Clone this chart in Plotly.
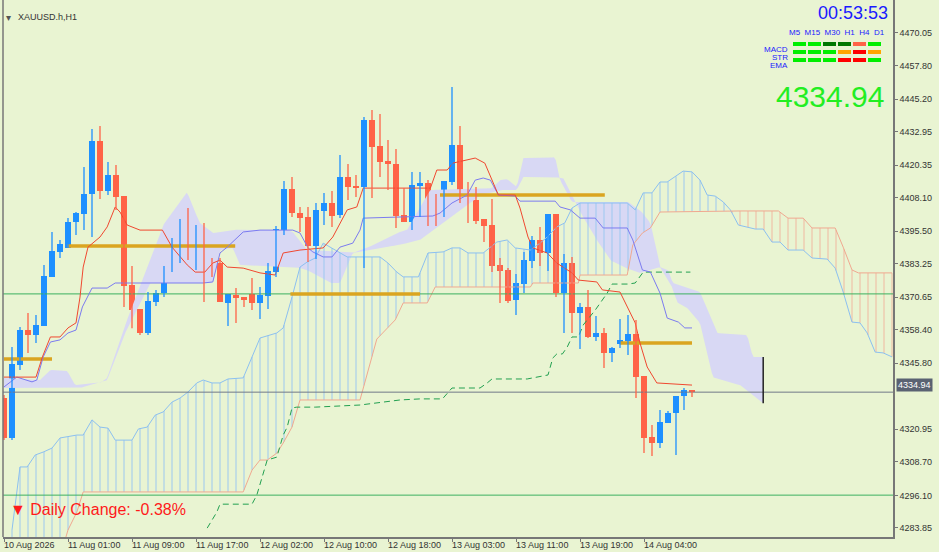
import numpy as np
import plotly.graph_objects as go

# ---- candles (H1 bars, index 0..86) ----
opens = [4332.73, 4317.68, 4345.15, 4358.31, 4356.43, 4359.82, 4378.25, 4387.66, 4389.16, 4398.94,
         4401.95, 4409.48, 4429.42, 4410.61, 4416.62, 4408.72, 4375.24, 4366.21, 4357.18, 4368.85,
         4372.24, 4382.01, 4387.28, 4392.55, 4389.16, 4394.05, 4383.90, 4383.52, 4368.47, 4371.48,
         4370.73, 4371.86, 4368.47, 4371.10, 4380.13, 4395.93, 4411.36, 4402.33, 4400.82, 4390.04,
         4403.08, 4406.09, 4401.58, 4415.87, 4412.49, 4412.11, 4437.32, 4427.53, 4421.89, 4420.76,
         4401.58, 4398.94, 4412.49, 4413.61, 4409.10, 4401.58, 4413.99, 4427.91, 4409.10, 4407.22,
         4400.07, 4397.81, 4382.77, 4380.89, 4369.60, 4375.62, 4384.27, 4392.17, 4387.28, 4401.95,
         4372.24, 4383.52, 4364.71, 4366.97, 4355.68, 4357.18, 4349.66, 4353.04, 4354.17, 4356.81,
         4341.01, 4318.06, 4315.80, 4323.33, 4326.97, 4333.48, 4335.74]
highs = [4333.86, 4351.92, 4359.45, 4364.71, 4363.96, 4382.77, 4395.18, 4392.17, 4400.45, 4402.71,
         4419.63, 4433.93, 4435.06, 4421.52, 4420.39, 4408.72, 4382.39, 4366.21, 4372.61, 4373.36,
         4382.39, 4392.92, 4400.07, 4404.21, 4397.81, 4398.57, 4385.40, 4385.40, 4371.86, 4374.11,
         4370.73, 4377.88, 4374.49, 4383.52, 4397.44, 4414.37, 4415.87, 4404.59, 4404.59, 4406.09,
         4409.85, 4410.61, 4424.15, 4420.76, 4416.62, 4438.44, 4441.08, 4439.57, 4429.79, 4426.41,
         4411.73, 4417.75, 4417.75, 4414.74, 4409.48, 4414.37, 4449.73, 4435.06, 4413.99, 4412.11,
         4400.07, 4407.60, 4385.40, 4381.64, 4379.38, 4387.66, 4393.67, 4397.06, 4401.95, 4401.95,
         4386.91, 4385.78, 4368.47, 4373.36, 4363.58, 4359.07, 4351.92, 4362.45, 4363.96, 4362.08,
         4341.01, 4322.57, 4328.22, 4327.84, 4333.48, 4336.49, 4335.74]
lows = [4316.93, 4316.93, 4343.27, 4349.66, 4353.42, 4359.82, 4378.25, 4385.40, 4389.16, 4394.05,
        4395.93, 4393.30, 4407.60, 4409.10, 4403.46, 4366.97, 4358.99, 4356.43, 4356.43, 4367.34,
        4370.73, 4380.13, 4383.52, 4384.65, 4380.89, 4368.85, 4378.25, 4368.85, 4359.82, 4360.95,
        4366.97, 4365.84, 4362.45, 4366.21, 4378.25, 4394.05, 4400.82, 4395.18, 4383.90, 4385.02,
        4397.81, 4397.06, 4400.45, 4407.22, 4408.35, 4381.64, 4407.97, 4415.87, 4410.98, 4396.69,
        4398.94, 4395.93, 4400.82, 4397.44, 4397.44, 4400.82, 4412.86, 4406.09, 4398.57, 4398.19,
        4391.42, 4380.13, 4368.47, 4368.47, 4363.96, 4372.24, 4381.64, 4382.39, 4380.51, 4370.73,
        4357.18, 4357.18, 4351.17, 4355.30, 4354.17, 4344.02, 4346.28, 4351.54, 4348.91, 4332.73,
        4312.04, 4310.91, 4313.92, 4323.33, 4311.29, 4328.22, 4333.11]
closes = [4317.68, 4345.53, 4358.31, 4356.43, 4360.19, 4378.63, 4388.03, 4390.67, 4398.94, 4402.33,
          4409.48, 4429.42, 4410.61, 4416.62, 4408.35, 4374.87, 4365.84, 4357.18, 4369.22, 4372.24,
          4382.39, 4387.66, 4392.55, 4389.16, 4394.05, 4383.52, 4383.52, 4368.85, 4371.86, 4370.35,
          4369.60, 4368.47, 4371.48, 4380.51, 4396.31, 4411.36, 4402.33, 4400.45, 4390.04, 4403.46,
          4406.09, 4401.20, 4415.87, 4412.11, 4412.11, 4437.32, 4427.16, 4421.52, 4420.76, 4401.20,
          4398.94, 4412.86, 4413.61, 4407.60, 4401.58, 4414.37, 4427.91, 4408.35, 4407.22, 4399.46,
          4397.44, 4382.39, 4380.51, 4369.22, 4375.99, 4384.65, 4392.17, 4387.28, 4401.95, 4372.24,
          4383.52, 4364.71, 4366.97, 4355.68, 4357.18, 4349.66, 4351.54, 4354.55, 4356.81, 4340.63,
          4317.68, 4315.80, 4323.70, 4326.97, 4333.48, 4335.74, 4334.94]

# ---- ichimoku lines (bar index, price) ----
tenkan_x = [0, 4, 4.8, 5.8, 7, 8, 9, 9.5, 9.9, 10.5, 12, 12.9, 13.9, 14.5, 15.4, 17, 19.8, 21, 22.9, 23.9,
            25.1, 26.1, 27, 27.9, 29.9, 32, 33.9, 34.9, 37, 39.9, 41.1, 42.9, 44.1, 44.9, 48.6, 53.3, 54.1,
            55.4, 56.1, 58.9, 60.1, 60.8, 61.8, 63.9, 64.5, 65.5, 66.1, 67.9, 69.1, 71, 71.8, 74.1, 74.8,
            77, 78.3, 78.9, 79.5, 80.4, 81.6, 86]
tenkan_y = [4340.6, 4340.6, 4348.2, 4355.7, 4355.7, 4359.1, 4361.0, 4370.7, 4382.0, 4389.5, 4393.3, 4397.1,
            4404.6, 4402.7, 4397.8, 4395.9, 4395.9, 4389.5, 4382.8, 4380.1, 4380.1, 4383.5, 4384.6, 4382.0,
            4381.6, 4379.8, 4379.0, 4387.3, 4388.4, 4389.2, 4393.3, 4403.5, 4404.6, 4411.7, 4411.7, 4411.7,
            4418.5, 4418.5, 4421.1, 4423.0, 4421.1, 4415.9, 4409.1, 4409.1, 4404.2, 4393.3, 4389.2, 4387.3,
            4383.5, 4379.8, 4377.1, 4376.4, 4373.4, 4372.6, 4364.7, 4361.0, 4353.4, 4344.4, 4338.4, 4337.6]
kijun_x = [0, 1.6, 3.5, 4.1, 4.9, 5.8, 7, 8, 9, 9.8, 11, 12.9, 13.9, 24.9, 26.1, 27, 27.9, 29.9, 32, 36.1,
           37, 38, 38.6, 39.9, 41, 42, 43.6, 44.5, 44.9, 48.6, 53.6, 54.5, 56, 57.9, 58.9, 59.9, 60.8, 61.8,
           63.9, 64.5, 68.9, 69.5, 70.8, 72, 73.9, 74.9, 77.9, 78.6, 79.8, 80.8, 82, 82.9, 84.3, 85.1, 86]
kijun_y = [4336.9, 4340.6, 4338.8, 4339.5, 4348.2, 4353.8, 4354.6, 4357.2, 4358.3, 4367.0, 4374.1, 4374.1,
           4376.0, 4376.0, 4376.4, 4387.3, 4389.5, 4395.2, 4395.9, 4395.9, 4394.8, 4389.2, 4387.7, 4385.8,
           4385.8, 4389.5, 4391.0, 4395.9, 4400.4, 4400.8, 4401.2, 4402.3, 4406.1, 4409.1, 4414.7, 4415.5,
           4414.7, 4409.1, 4408.7, 4406.8, 4406.8, 4404.6, 4403.5, 4400.4, 4400.4, 4396.7, 4396.7, 4392.2,
           4380.9, 4380.1, 4372.2, 4362.8, 4361.3, 4359.1, 4359.1]
span_b_x = [1, 1.6, 2, 2.9, 3.9, 4.9, 6, 7, 8, 9.1, 9.9, 11, 12, 13, 13.9, 16, 16.8, 17.9, 18.9, 19.9, 21,
            22, 23, 24.1, 24.9, 26, 27, 28, 29.9, 31, 32, 34.1, 34.9, 36, 37, 37.9, 38.9, 39.9, 40.8, 42,
            42.9, 47, 48, 49.1, 49.9, 51.8, 53, 54.9, 56, 57, 58, 59.9, 61.6, 62.9, 63.9, 65.8, 67, 67.9,
            69.1, 70.1, 71, 72, 77.9, 78.9, 79.9, 81, 82, 82.9, 83.9, 84.9, 86, 87, 87.9, 88.9, 89.9, 90.8,
            91.8, 92.9, 93.9, 94.9, 96, 97, 98, 99.9, 101, 102.9, 103.9, 104.9, 106, 107, 107.9, 108.9,
            109.9, 111]
span_b_y = [4283.1, 4298.1, 4306.8, 4306.8, 4311.3, 4312.4, 4313.9, 4317.7, 4318.1, 4318.8, 4318.8, 4324.5,
            4321.8, 4321.4, 4316.9, 4316.9, 4321.1, 4321.8, 4326.3, 4327.5, 4331.2, 4332.7, 4335.0, 4338.4,
            4339.5, 4338.4, 4338.4, 4339.9, 4340.3, 4348.2, 4355.3, 4357.2, 4359.1, 4370.7, 4382.0, 4383.9,
            4385.4, 4391.0, 4389.5, 4387.3, 4385.8, 4385.8, 4383.5, 4380.1, 4378.3, 4378.3, 4387.3, 4387.7,
            4389.2, 4389.2, 4387.3, 4387.3, 4391.4, 4392.2, 4389.2, 4388.4, 4391.0, 4393.3, 4397.1, 4398.6,
            4404.2, 4406.1, 4406.1, 4403.5, 4409.9, 4409.9, 4414.0, 4414.0, 4415.9, 4418.1, 4417.8, 4414.7,
            4409.1, 4408.7, 4406.5, 4403.5, 4397.8, 4397.1, 4396.3, 4396.3, 4391.4, 4391.4, 4388.4, 4388.4,
            4385.4, 4385.0, 4381.6, 4372.6, 4361.3, 4361.0, 4357.2, 4350.0, 4349.7, 4348.2]
span_a_x = [1, 7.5, 8, 9.1, 9.9, 29.9, 31, 32, 32.9, 34.1, 34.9, 36, 37, 39.5, 44.5, 46.6, 48.9, 49.9, 52.9,
            53.9, 65.8, 66.1, 71.8, 72, 77.9, 78.6, 79.8, 80.8, 82, 92, 96.8, 98, 99.9, 101, 103.9, 104.9,
            106, 106.8, 111]
span_a_y = [4276.0, 4278.0, 4283.1, 4289.8, 4297.4, 4297.4, 4305.6, 4309.4, 4309.4, 4312.0, 4315.8, 4321.8,
            4332.0, 4332.0, 4332.0, 4354.9, 4362.1, 4368.5, 4368.5, 4374.5, 4374.5, 4376.0, 4376.0, 4379.0,
            4379.0, 4390.3, 4394.8, 4396.7, 4402.7, 4403.1, 4403.1, 4400.4, 4400.4, 4396.7, 4396.7, 4389.5,
            4380.9, 4379.8, 4379.8]
chikou_x = [25.4, 26.6, 27, 31, 31.6, 32.4, 32.9, 34.1, 34.9, 35.4, 36, 36.6, 38.9, 44.5, 49.5, 52, 54.8,
            56, 59.5, 60.4, 61, 65.4, 68, 68.6, 69.1, 69.8, 70.4, 71, 71.8, 72.4, 73.9, 75.4, 76, 78,
            78.9, 79.9, 85.8]
chikou_y = [4283.8, 4289.8, 4292.8, 4292.8, 4296.2, 4304.5, 4309.4, 4310.5, 4318.8, 4321.8, 4329.0, 4329.3,
            4329.3, 4330.1, 4332.0, 4332.4, 4332.4, 4336.5, 4336.5, 4338.4, 4339.9, 4339.9, 4341.4, 4347.8,
            4349.3, 4349.3, 4351.9, 4355.7, 4355.7, 4360.2, 4365.8, 4372.2, 4375.6, 4375.6, 4376.0, 4380.1,
            4380.1]

# ---- higher-timeframe cloud (lavender band) ----
band_top_x = [0, 4.5, 5.8, 7.9, 8.9, 12, 12.9, 14.9, 19.9, 22.9, 23.6, 24.5, 26.1, 28.6, 35.4, 36.1, 37.9,
              43.6, 45.4, 49.1, 50.4, 52, 53.3, 61, 62, 62.9, 64.1, 64.9, 68, 68.9, 69.5, 71, 78, 79.5,
              80.8, 81.6, 82, 83, 83.6, 87, 88.3, 89.1, 92.9, 93.6, 94.9]
band_top_y = [4340.3, 4339.5, 4343.3, 4342.9, 4337.6, 4338.4, 4340.3, 4358.3, 4397.8, 4410.2, 4404.6, 4398.6,
              4394.8, 4396.0, 4396.0, 4395.2, 4388.4, 4387.3, 4389.2, 4394.8, 4396.0, 4404.6, 4411.0, 4411.7,
              4414.7, 4415.1, 4412.1, 4423.0, 4423.0, 4423.4, 4414.7, 4406.5, 4406.5, 4403.5, 4398.6, 4388.4,
              4382.0, 4380.9, 4376.0, 4372.6, 4363.2, 4357.2, 4356.4, 4348.2, 4348.2]
band_bot_x = [0, 9.5, 12.9, 14.9, 18.3, 26.1, 27, 28.6, 29.5, 36.6, 37.9, 40.8, 42, 43.6, 47.4, 49.5, 52,
              54.5, 57, 59.5, 62, 64.1, 64.9, 68, 69.9, 70.8, 72.4, 74.1, 75.8, 77.4, 79.5, 82, 83.5, 84.1,
              85.4, 87, 88.6, 90.4, 92, 93.3, 94.9]
band_bot_y = [4336.5, 4336.5, 4339.5, 4355.7, 4376.0, 4376.0, 4388.4, 4389.2, 4382.8, 4382.0, 4380.9, 4376.0,
              4376.0, 4387.3, 4389.5, 4390.3, 4392.2, 4397.8, 4403.5, 4409.1, 4411.0, 4411.0, 4415.9, 4415.9,
              4415.5, 4409.9, 4400.8, 4392.2, 4384.6, 4382.0, 4379.8, 4382.0, 4374.5, 4368.8, 4366.6, 4360.9,
              4340.6, 4338.8, 4337.6, 4334.6, 4330.8]

# ---- levels ----
level_segments = [(0, 6, 4347.4), (7.9, 28.9, 4389.9), (35.8, 52, 4371.9), (54.5, 75.1, 4409.1), (77, 86, 4353.4)]
green_levels = [4371.9, 4296.2]
last_price = 4334.94

tick_vals = [4470.05, 4457.80, 4445.20, 4432.95, 4420.35, 4408.10, 4395.50, 4383.25, 4370.65,
             4358.40, 4345.80, 4320.95, 4308.70, 4296.10, 4283.85]
x_tick_idx = [0, 8, 16, 24, 32, 40, 48, 56, 64, 72, 80]
x_tick_text = ["10 Aug 2026", "11 Aug 01:00", "11 Aug 09:00", "11 Aug 17:00", "12 Aug 02:00", "12 Aug 10:00",
               "12 Aug 18:00", "13 Aug 03:00", "13 Aug 11:00", "13 Aug 19:00", "14 Aug 04:00"]

tf_labels = ["M5", "M15", "M30", "H1", "H4", "D1"]
row_labels = ["MACD", "STR", "EMA"]
signal_colors = [["#00ee00", "#00ee00", "#007700", "#007700", "#ff6347", "#00ee00"],
                 ["#00ee00", "#00ee00", "#00ee00", "#ffa500", "#ff0000", "#ffa500"],
                 ["#00ee00", "#00ee00", "#00ee00", "#ff0000", "#ff0000", "#00ee00"]]

BG = "#E9F4D2"
FONT = "Liberation Sans"
UP, DOWN = "#1E90FF", "#FF6347"
W, H = 939, 552
L, R, T, B = 3, 46, 0, 15
YMIN, YMAX = 4280.45, 4482.46
XMIN, XMAX = -0.125, 111.125


def px(x):
    return (x - L) / (W - L - R)


def py(y):
    return 1 - (y - T) / (H - T - B)


fig = go.Figure()

# lavender cloud
gx = np.linspace(0, 94.9, 400)
fig.add_trace(go.Scatter(x=gx, y=np.interp(gx, band_bot_x, band_bot_y), mode="lines",
                         line=dict(width=0), hoverinfo="skip"))
fig.add_trace(go.Scatter(x=gx, y=np.interp(gx, band_top_x, band_top_y), mode="lines",
                         line=dict(width=0), fill="tonexty", fillcolor="#D8D8F4", hoverinfo="skip"))

# hatched ichimoku cloud
hb_x, hb_y, hp_x, hp_y = [], [], [], []
for i in range(1, 112):
    a = np.interp(i, span_a_x, span_a_y)
    b = np.interp(i, span_b_x, span_b_y)
    if b >= a:
        hb_x += [i, i, None]
        hb_y += [a, b, None]
    else:
        hp_x += [i, i, None]
        hp_y += [b, a, None]
fig.add_trace(go.Scatter(x=hb_x, y=hb_y, mode="lines", line=dict(color="#9CC8F0", width=1), hoverinfo="skip"))
fig.add_trace(go.Scatter(x=hp_x, y=hp_y, mode="lines", line=dict(color="#F0B8A0", width=1), hoverinfo="skip"))
fig.add_trace(go.Scatter(x=span_b_x, y=span_b_y, mode="lines", line=dict(color="#8CC0F0", width=1)))
fig.add_trace(go.Scatter(x=span_a_x, y=span_a_y, mode="lines", line=dict(color="#F0A890", width=1)))

# horizontal lines
for lv in green_levels:
    fig.add_trace(go.Scatter(x=[XMIN, XMAX], y=[lv, lv], mode="lines", line=dict(color="#3CB060", width=1)))
fig.add_trace(go.Scatter(x=[XMIN, XMAX], y=[last_price, last_price], mode="lines",
                         line=dict(color="#707888", width=1)))
for x0, x1, lv in level_segments:
    fig.add_trace(go.Scatter(x=[x0, x1], y=[lv, lv], mode="lines", line=dict(color="#DAA520", width=3.5)))

fig.add_trace(go.Scatter(x=chikou_x, y=chikou_y, mode="lines",
                         line=dict(color="#22A050", width=1, dash="6px,4px")))
fig.add_trace(go.Scatter(x=kijun_x, y=kijun_y, mode="lines", line=dict(color="#7B7BF0", width=1)))
fig.add_trace(go.Scatter(x=tenkan_x, y=tenkan_y, mode="lines", line=dict(color="#F04830", width=1)))
fig.add_trace(go.Scatter(x=[94.9, 94.9], y=[4348.2, 4330.8], mode="lines", line=dict(color="#222222", width=1.5)))

# candles: wicks + bodies
for up in (True, False):
    idx = [i for i in range(len(opens)) if (closes[i] >= opens[i]) == up]
    col = UP if up else DOWN
    wx, wy = [], []
    for i in idx:
        wx += [i, i, None]
        wy += [lows[i], highs[i], None]
    fig.add_trace(go.Scatter(x=wx, y=wy, mode="lines", line=dict(color=col, width=1.3), hoverinfo="skip"))
    fig.add_trace(go.Bar(x=idx, base=[min(opens[i], closes[i]) for i in idx],
                         y=[max(abs(closes[i] - opens[i]), 0.5) for i in idx],
                         width=0.7, marker=dict(color=col, line=dict(width=0))))

ann = []
for i, t in zip(x_tick_idx, x_tick_text):
    ann.append(dict(x=i, y=0, xref="x", yref="paper", yanchor="top", xanchor="left", yshift=-1, xshift=-2,
                    text=t, showarrow=False, font=dict(size=9, color="#333333")))
ann.append(dict(x=px(16), y=py(10), xref="paper", yref="paper", xanchor="left", text="XAUUSD.h,H1",
                showarrow=False, font=dict(size=9, color="#333333")))
ann.append(dict(x=px(4), y=py(10), xref="paper", yref="paper", xanchor="left", text="▾",
                showarrow=False, font=dict(size=10, color="#555555")))
ann.append(dict(x=px(8), y=py(520), xref="paper", yref="paper", xanchor="left", text="▼ Daily Change: -0.38%",
                showarrow=False, font=dict(size=16, color="#FF1A1A")))
ann.append(dict(x=px(889), y=py(13), xref="paper", yref="paper", xanchor="right", yanchor="middle",
                text="00:53:53", showarrow=False, borderpad=0, font=dict(size=18, color="#1A1AFF")))
ann.append(dict(x=px(886), y=py(78), xref="paper", yref="paper", xanchor="right", text="4334.94",
                showarrow=False, font=dict(size=30, color="#22EE22")))
ann.append(dict(x=1, y=py(392), xref="paper", yref="paper", xanchor="left", xshift=3, text="4334.94",
                showarrow=False, bgcolor="#5A6272", font=dict(size=9, color="white"), borderpad=1))
ann.append(dict(x=px(837), y=py(33), xref="paper", yref="paper", xanchor="center", yanchor="middle",
                text="  ".join(tf_labels), showarrow=False, borderpad=0,
                font=dict(size=8, color="#1A1AFF")))
shapes = []
for r, lab in enumerate(row_labels):
    yy = 44 + 8 * r
    ann.append(dict(x=px(789), y=py(yy), xref="paper", yref="paper", xanchor="right", text=lab,
                    showarrow=False, borderpad=0, font=dict(size=8, color="#1A1AFF")))
    for k in range(6):
        shapes.append(dict(type="rect", xref="paper", yref="paper", x0=px(793 + 15 * k), x1=px(806 + 15 * k),
                           y0=py(yy + 2), y1=py(yy - 2), fillcolor=signal_colors[r][k], line=dict(width=0)))
shapes.append(dict(type="line", xref="paper", yref="paper", x0=0, x1=0, y0=0, y1=1,
                   line=dict(color="#777777", width=1.5)))

fig.update_layout(
    width=W, height=H, autosize=False, margin=dict(l=L, r=R, t=T, b=B),
    paper_bgcolor=BG, plot_bgcolor=BG, showlegend=False, barmode="overlay", bargap=0,
    annotations=ann, shapes=shapes,
    font=dict(family=FONT, size=9, color="#333333"),
    xaxis=dict(range=[XMIN, XMAX], showgrid=False, zeroline=False,
               tickvals=x_tick_idx, ticktext=[""] * len(x_tick_idx), ticks="outside", ticklen=3,
               tickcolor="#777777", showline=True, linecolor="#777777", linewidth=1.5),
    yaxis=dict(range=[YMIN, YMAX], side="right", showgrid=False, zeroline=False,
               tickvals=tick_vals, ticktext=[f"{v:.2f}" for v in tick_vals], ticks="outside", ticklen=3,
               tickcolor="#777777", showline=True, linecolor="#777777", linewidth=1.5),
)

fig.write_html("out.html", config={"displayModeBar": False},
               post_script="document.body.style.margin='0';document.body.style.background='%s';" % BG)
